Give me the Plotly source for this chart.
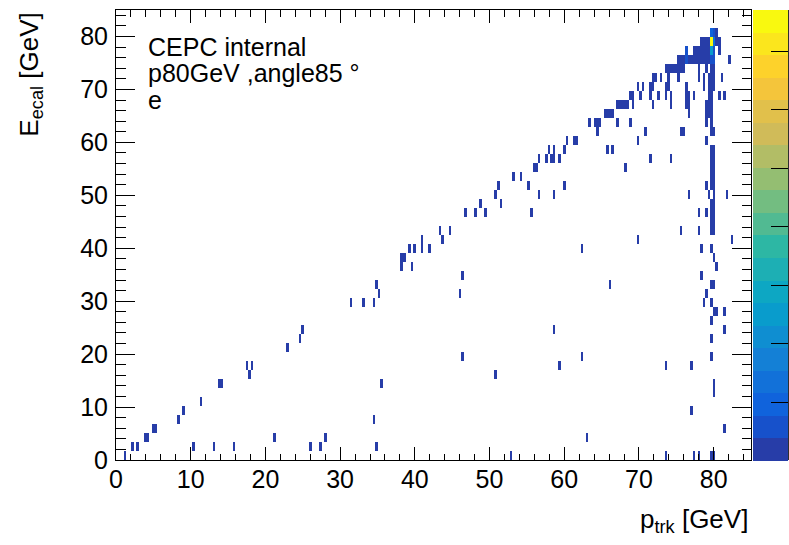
import numpy as np
import plotly.graph_objects as go

# ---------------- data ----------------
# E_ecal row centres (GeV) and the p_trk values (GeV) of cells with one entry in that row
e_rows = [0.85, 2.55, 4.25, 5.95, 7.65, 9.35, 11.05, 12.75, 14.45, 16.15,
          17.85, 19.55, 21.25, 22.95, 24.65, 26.35, 28.05, 29.75, 31.45, 33.15,
          34.85, 36.55, 38.25, 39.95, 41.65, 43.35, 45.05, 46.75, 48.45, 50.15,
          51.85, 53.55, 55.25, 56.95, 58.65, 60.35, 62.05, 63.75, 65.45, 67.15,
          68.85, 70.55, 72.25, 73.95, 75.65, 77.35, 79.05, 80.75]
p_rows = [
    [1.1, 52.7, 73.7, 77.2, 78.0, 79.7, 80.0],
    [2.2, 2.9, 10.2, 13.1, 15.9, 26.1, 27.4, 35.0],
    [3.8, 4.1, 21.1, 28.2, 62.9],
    [5.0, 5.3, 81.3],
    [8.2, 34.4],
    [9.1, 76.9],
    [11.5],
    [80.0],
    [13.9, 14.2, 35.6, 80.0],
    [17.8, 50.9],
    [17.6, 18.3, 59.3, 73.5, 76.9],
    [46.4, 62.4, 79.6],
    [22.9],
    [24.8, 79.6],
    [25.1, 58.5, 81.3],
    [79.6],
    [80.0, 80.4, 81.3],
    [31.4, 33.2, 34.4, 78.7, 79.6],
    [35.3, 46.0, 79.0],
    [35.0, 66.0, 79.7, 80.1],
    [46.3, 78.4],
    [38.4, 39.5, 80.4],
    [38.3, 38.6, 80.2],
    [39.3, 40.0, 40.9, 42.0, 62.4, 78.4, 79.6],
    [40.9, 43.7, 69.7, 82.4],
    [43.4, 44.7, 75.5, 78.1, 79.7, 80.2],
    [79.6, 80.0],
    [46.7, 48.2, 49.3, 55.7, 78.0, 79.1, 79.6, 80.0],
    [48.7, 51.5, 79.6, 80.0],
    [50.8, 56.7, 58.8, 76.7, 79.5, 80.2, 81.7],
    [51.1, 55.3, 59.9, 79.0, 79.6, 80.0],
    [53.3, 54.1, 79.6, 80.0],
    [55.9, 56.2, 68.3, 79.6, 80.0],
    [56.5, 57.5, 58.3, 58.8, 59.4, 71.6, 74.3, 79.6, 80.0],
    [57.9, 58.5, 59.9, 65.7, 66.6, 79.6, 80.0],
    [60.2, 61.5, 61.8, 69.7, 79.2],
    [64.5, 70.9, 75.6, 75.9, 79.8, 80.2],
    [63.4, 64.0, 64.5, 64.9, 67.1, 68.9, 79.1, 79.8],
    [65.6, 65.9, 66.2, 66.6, 76.7, 79.1, 79.4, 79.8],
    [67.3, 67.6, 67.9, 68.3, 68.6, 69.2, 72.0, 74.3, 76.2, 76.7, 79.2, 79.5, 79.8],
    [68.8, 69.1, 70.2, 71.6, 72.6, 73.5, 74.4, 76.2, 76.7, 77.5, 79.4, 79.8, 80.6, 81.3],
    [70.0, 70.5, 71.45, 71.8, 73.6, 74.0, 76.2, 78.6, 79.3, 79.7, 80.1],
    [71.8, 72.2, 72.9, 74.0, 75.2, 77.9, 78.7, 79.3, 79.7, 80.1, 81.0],
    [73.6, 73.95, 74.3, 74.65, 75.0, 75.3, 75.65, 76.1, 77.9, 79.0, 79.7, 80.1],
    [75.2, 75.5, 75.9, 76.6, 76.9, 77.2, 77.6, 77.9, 78.3, 78.6, 78.9, 79.3, 82.2],
    [77.2, 77.6, 77.9, 78.3, 78.6, 79.0, 79.3, 80.8],
    [78.4, 78.8, 79.1, 79.4, 80.3, 80.7],
    [80.4],
]
# cells with more than one entry
hot_p = [76.2, 79.6, 80.0, 76.4, 79.7, 80.0, 79.6, 80.0, 79.7, 80.0]
hot_e = [75.65, 75.65, 75.65, 77.35, 77.35, 77.35, 79.05, 79.05, 80.75, 80.75]
hot_n = [2, 3, 2, 2, 12, 3, 38, 6, 5, 2]

# histogram binning
nx, x_lo, x_hi = 250, 0.0, 85.0
ny, y_lo, y_hi = 50, 0.0, 85.0
z_max = 38.5

# ---------------- build histogram ----------------
dx = (x_hi - x_lo) / nx
dy = (y_hi - y_lo) / ny
z = np.full((ny, nx), np.nan)


def fill(p, e, n):
    i = int(np.floor((p - x_lo) / dx + 1e-6))
    j = int(np.floor((e - y_lo) / dy + 1e-6))
    z[j, i] = n


for e, plist in zip(e_rows, p_rows):
    for p in plist:
        fill(p, e, 1)
for p, e, n in zip(hot_p, hot_e, hot_n):
    fill(p, e, n)

xc = x_lo + dx * (np.arange(nx) + 0.5)
yc = y_lo + dy * (np.arange(ny) + 0.5)
zlist = [[None if np.isnan(v) else float(v) for v in row] for row in z]

# ROOT kBird palette, 20 contour levels
st = [0.0, 0.125, 0.25, 0.375, 0.5, 0.625, 0.75, 0.875, 1.0]
rr = [0.2082, 0.0592, 0.0780, 0.0232, 0.1802, 0.5301, 0.8186, 0.9956, 0.9764]
gg = [0.1664, 0.3599, 0.5041, 0.6419, 0.7178, 0.7492, 0.7328, 0.7862, 0.9832]
bb = [0.5293, 0.8684, 0.8385, 0.7914, 0.6425, 0.4662, 0.3499, 0.1968, 0.0539]
nlev = 20
cs = []
for k in range(nlev):
    idx = min(int((k + 0.99) * 255 / nlev), 254)
    pos = idx / 255.0
    col = "rgb(%d,%d,%d)" % (round(np.interp(pos, st, rr) * 255),
                             round(np.interp(pos, st, gg) * 255),
                             round(np.interp(pos, st, bb) * 255))
    cs.append([k / nlev, col])
    cs.append([(k + 1) / nlev, col])

# ---------------- figure ----------------
W, H = 789, 545
L, R, T, B = 116.3, 751.0, 10.0, 460.5
pw, ph = R - L, B - T
FONT = "Liberation Sans, Arial, Helvetica, sans-serif"

fig = go.Figure(go.Heatmap(
    x=xc, y=yc, z=zlist, colorscale=cs, zmin=0, zmax=z_max, zsmooth=False,
    hoverinfo="skip",
    colorbar=dict(x=(753.3 - L) / pw, xanchor="left", xpad=0, ypad=0,
                  y=1, yanchor="top", len=ph, lenmode="pixels",
                  thickness=35, thicknessmode="pixels", outlinewidth=0,
                  ticks="inside", ticklen=17, tickcolor="black", tickwidth=1,
                  tickvals=[0, 5, 10, 15, 20, 25, 30, 35], showticklabels=False),
))

axis_common = dict(showline=True, linecolor="black", linewidth=1, mirror="ticks",
                   ticks="inside", tickcolor="black", tickwidth=1,
                   showgrid=False, zeroline=False, tick0=0, dtick=10,
                   tickfont=dict(family=FONT, size=25, color="black"))
fig.update_xaxes(range=[x_lo, x_hi], ticklen=13, ticklabelstandoff=-3,
                 minor=dict(ticks="inside", ticklen=6.5, dtick=2, tickcolor="black", showgrid=False),
                 **axis_common)
fig.update_yaxes(range=[y_lo, y_hi], ticklen=19, ticklabelstandoff=2,
                 minor=dict(ticks="inside", ticklen=9.5, dtick=2, tickcolor="black", showgrid=False),
                 **axis_common)

ann_font = dict(family=FONT, size=25, color="black")
labels = ["CEPC internal", "p80GeV ,angle85 °", "e"]
for k, txt in enumerate(labels):
    fig.add_annotation(text=txt, xref="paper", yref="paper",
                       x=(146 - L) / pw, y=(B - (47 + 26.5 * k)) / ph,
                       xanchor="left", yanchor="middle", showarrow=False, font=ann_font)

title_font = dict(family=FONT, size=26, color="black")
fig.add_annotation(text="p<sub>trk</sub> [GeV]", xref="paper", yref="paper",
                   x=(750 - L) / pw, y=(B - 521) / ph, xanchor="right", yanchor="middle",
                   showarrow=False, font=title_font)
fig.add_annotation(text="E<sub>ecal</sub> [GeV]", xref="paper", yref="paper",
                   x=(31 - L) / pw, y=(B - 11) / ph, xanchor="center", yanchor="top",
                   textangle=-90, showarrow=False, font=title_font)

# right-hand axis line of the palette
fig.add_shape(type="line", xref="paper", yref="paper",
              x0=(788.3 - L) / pw, x1=(788.3 - L) / pw, y0=0, y1=1,
              line=dict(color="black", width=1))

fig.update_layout(width=W, height=H, autosize=False,
                  margin=dict(l=L, r=W - R, t=T, b=H - B, pad=0, autoexpand=False),
                  paper_bgcolor="white", plot_bgcolor="white", showlegend=False)

fig.write_html("out.html")
